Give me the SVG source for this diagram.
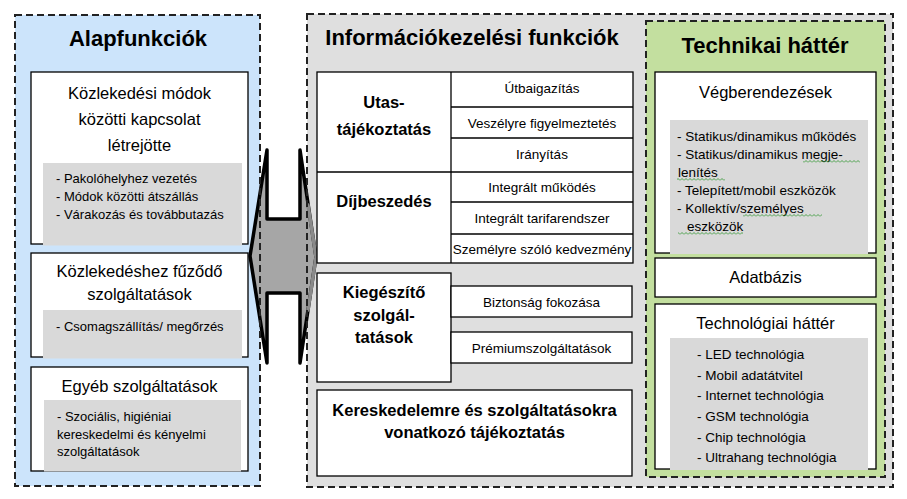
<svg xmlns="http://www.w3.org/2000/svg" width="907" height="499" viewBox="0 0 907 499">
<defs>
<style>
text{font-family:"Liberation Sans",Arial,sans-serif;fill:#000}
.h{font-size:22px;font-weight:bold}
.m{font-size:16.5px}
.mb{font-size:16.5px;font-weight:bold}
.s{font-size:13px}
.c{font-size:13.5px}
.mid{text-anchor:middle}
.box{fill:#fff;stroke:#000;stroke-width:1.3}
.sub{fill:#d9d9d9}
.dash{fill:none;stroke:#222;stroke-width:2;stroke-dasharray:7 4}
.ln{stroke:#000;stroke-width:1.3;fill:none}
</style>
<pattern id="wave" x="0" y="1" width="4" height="3" patternUnits="userSpaceOnUse">
<path d="M0,2.5 L2,0.5 L4,2.5" fill="none" stroke="#3c9b3c" stroke-width="0.9"/>
</pattern>
</defs>
<rect width="907" height="499" fill="#fff"/>

<!-- panel fills -->
<rect id="panel-left-fill" x="15" y="15" width="245" height="471" fill="#cce4fb"/>
<rect id="panel-mid-fill" x="307" y="14" width="586" height="473" fill="#dfdfdf"/>
<rect id="panel-green-fill" x="646" y="21" width="239" height="456" fill="#c3df9f"/>

<!-- connectors -->
<g id="connectors">
<polygon points="250,256 267,150 267,219 300,219 300,150 316,257 300,363 300,293 267,293 267,363" fill="#a6a6a6" stroke="#000" stroke-width="3.5" stroke-linejoin="round"/>
<polyline points="308,205 316,257 308,310" fill="none" stroke="#8a8a8a" stroke-width="3.5" stroke-linecap="round"/>
</g>

<!-- panel borders -->
<rect x="15" y="15" width="245" height="471" class="dash"/>
<rect x="307" y="14" width="586" height="473" class="dash"/>
<rect x="646" y="21" width="239" height="456" class="dash"/>

<g id="title-alap"><text class="h mid" x="138" y="46">Alapfunkciók</text></g>
<g id="title-info"><text class="h mid" x="472" y="45">Információkezelési funkciók</text></g>
<g id="title-tech"><text class="h mid" x="765" y="53">Technikai háttér</text></g>

<!-- left column -->
<g id="kozlekedesi-modok">
<rect class="box" x="31" y="72" width="217" height="172"/>
<rect class="sub" x="43" y="163" width="199" height="82.5"/>
<text class="m mid" x="139.5" y="99">Közlekedési módok</text>
<text class="m mid" x="139.5" y="125">közötti kapcsolat</text>
<text class="m mid" x="139.5" y="151">létrejötte</text>
<text class="s" x="56" y="183">- Pakolóhelyhez vezetés</text>
<text class="s" x="56" y="201">- Módok közötti átszállás</text>
<text class="s" x="56" y="219">- Várakozás és továbbutazás</text>
</g>
<g id="kozlekedeshez-fuzodo">
<rect class="box" x="31" y="253" width="217" height="104"/>
<rect class="sub" x="43" y="310" width="199" height="48.5"/>
<text class="m mid" x="139.5" y="277">Közlekedéshez fűződő</text>
<text class="m mid" x="139.5" y="300">szolgáltatások</text>
<text class="s" x="56" y="331">- Csomagszállítás/ megőrzés</text>
</g>
<g id="egyeb-szolgaltatasok">
<rect class="box" x="31" y="367" width="217" height="104"/>
<rect class="sub" x="44" y="400" width="197" height="71.5"/>
<text class="m mid" x="139.5" y="392">Egyéb szolgáltatások</text>
<text class="s" x="57" y="421">- Szociális, higiéniai</text>
<text class="s" x="57" y="438.5">kereskedelmi és kényelmi</text>
<text class="s" x="57" y="456">szolgáltatások</text>
</g>

<!-- middle table -->
<g id="utas-dij-table">
<rect class="box" x="317" y="72" width="316" height="191"/>
<line class="ln" x1="451" y1="72" x2="451" y2="263"/>
<line class="ln" x1="317" y1="172" x2="633" y2="172"/>
<line class="ln" x1="451" y1="107" x2="633" y2="107"/>
<line class="ln" x1="451" y1="138" x2="633" y2="138"/>
<line class="ln" x1="451" y1="202" x2="633" y2="202"/>
<line class="ln" x1="451" y1="234" x2="633" y2="234"/>
</g>
<g id="utastajekoztatas">
<text class="mb mid" x="384" y="108">Utas-</text>
<text class="mb mid" x="384" y="135">tájékoztatás</text>
</g>
<g id="utbaigazitas"><text class="c mid" x="542" y="92.5">Útbaigazítás</text></g>
<g id="veszelyre"><text class="c mid" x="542" y="127.5">Veszélyre figyelmeztetés</text></g>
<g id="iranyitas"><text class="c mid" x="542" y="158.5">Irányítás</text></g>
<g id="dijbeszedes"><text class="mb mid" x="384" y="207">Díjbeszedés</text></g>
<g id="integralt-mukodes"><text class="c mid" x="542" y="192">Integrált működés</text></g>
<g id="integralt-tarifa"><text class="c mid" x="542" y="223">Integrált tarifarendszer</text></g>
<g id="szemelyre"><text class="c mid" x="542" y="254">Személyre szóló kedvezmény</text></g>

<g id="kiegeszito">
<rect class="box" x="317" y="273" width="134" height="109"/>
<text class="mb mid" x="384" y="298">Kiegészítő</text>
<text class="mb mid" x="384" y="321">szolgál-</text>
<text class="mb mid" x="384" y="343">tatások</text>
</g>
<g id="biztonsag">
<rect class="box" x="451" y="286" width="181" height="31"/>
<text class="c mid" x="541.5" y="306.5">Biztonság fokozása</text>
</g>
<g id="premium">
<rect class="box" x="451" y="332" width="181" height="31"/>
<text class="c mid" x="541.5" y="353">Prémiumszolgáltatások</text>
</g>
<g id="kereskedelemre">
<rect class="box" x="317" y="390" width="315" height="86"/>
<text class="mb mid" x="474.5" y="416">Kereskedelemre és szolgáltatásokra</text>
<text class="mb mid" x="474.5" y="438">vonatkozó tájékoztatás</text>
</g>

<!-- right column -->
<g id="vegberendezesek">
<rect class="box" x="655" y="72" width="221" height="181"/>
<rect class="sub" x="670" y="120" width="198" height="134"/>
<text class="m mid" x="765.5" y="97.5">Végberendezések</text>
<text class="c" x="677" y="141">- Statikus/dinamikus működés</text>
<text class="c" x="677" y="159">- Statikus/dinamikus megje-</text>
<text class="c" x="678" y="177">lenítés</text>
<text class="c" x="677" y="195">- Telepített/mobil eszközök</text>
<text class="c" x="677" y="213">- Kollektív/személyes</text>
<text class="c" x="687" y="231">eszközök</text>
<rect x="803" y="160" width="57" height="3" fill="url(#wave)"/>
<rect x="677" y="178" width="48" height="3" fill="url(#wave)"/>
<rect x="743" y="214" width="79" height="3" fill="url(#wave)"/>
<rect x="678" y="232" width="65" height="3" fill="url(#wave)"/>
</g>
<g id="adatbazis">
<rect class="box" x="655" y="258" width="221" height="39"/>
<text class="m mid" x="765.5" y="283">Adatbázis</text>
</g>
<g id="technologiai-hatter">
<rect class="box" x="655" y="304" width="221" height="165"/>
<rect class="sub" x="670" y="338" width="198" height="132"/>
<text class="m mid" x="765.5" y="329">Technológiai háttér</text>
<text class="c" x="697" y="359">- LED technológia</text>
<text class="c" x="697" y="379.5">- Mobil adatátvitel</text>
<text class="c" x="697" y="400">- Internet technológia</text>
<text class="c" x="697" y="420.5">- GSM technológia</text>
<text class="c" x="697" y="441.5">- Chip technológia</text>
<text class="c" x="697" y="462">- Ultrahang technológia</text>
</g>
</svg>
